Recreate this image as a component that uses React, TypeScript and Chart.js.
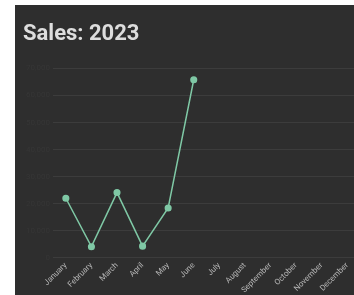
import React, { useEffect, useRef } from "react";
import { Chart, registerables } from "chart.js";

Chart.register(...registerables);

const months = [
  "January", "February", "March", "April", "May", "June",
  "July", "August", "September", "October", "November", "December",
];
const sales: (number | null)[] = [22000, 4100, 24100, 4300, 18400, 65800, null, null, null, null, null, null];
const yMin = 0;
const yMax = 70000;
const yStep = 10000;
const titleText = "Sales: 2023";

export default function App() {
  const ref = useRef<HTMLCanvasElement | null>(null);
  useEffect(() => {
    if (!ref.current) return;
    const chart = new Chart(ref.current, {
      type: "line",
      data: {
        labels: months,
        datasets: [
          {
            label: "Sales",
            data: sales,
            borderColor: "#7fc8a5",
            backgroundColor: "#7fc8a5",
            pointBackgroundColor: "#7fc8a5",
            pointBorderColor: "#7fc8a5",
            borderWidth: 1.5,
            pointRadius: 2.8,
            tension: 0,
            spanGaps: false,
          },
        ],
      },
      options: {
        responsive: false,
        animation: false,
        maintainAspectRatio: false,
        layout: { padding: 8 },
        plugins: {
          legend: { display: false },
          tooltip: { enabled: false },
          title: {
            display: true,
            text: titleText,
            align: "start",
            color: "#dddddd",
            font: { family: "Roboto", size: 22, weight: "bold" },
            padding: { top: 8, bottom: 21 },
          },
        },
        scales: {
          x: {
            offset: true,
            grid: { display: false, drawTicks: false },
            border: { display: true, color: "#3c3c3c" },
            ticks: {
              color: "#b8b8b8",
              font: { family: "Roboto", size: 8 },
              minRotation: 45,
              maxRotation: 45,
              autoSkip: false,
              padding: 3,
            },
          },
          y: {
            min: yMin,
            max: yMax,
            grid: { color: "#3c3c3c", drawTicks: false },
            border: { display: false },
            ticks: {
              stepSize: yStep,
              color: "#363636",
              font: { family: "Roboto", size: 8 },
              padding: 3,
            },
          },
        },
      },
    });
    return () => chart.destroy();
  }, []);
  return (
    <div style={{ position: "fixed", left: 0, top: 0, width: "100vw", height: "100vh", overflow: "hidden", background: "#ffffff" }}>
      <div style={{ position: "absolute", left: 15, top: 5, width: 353, height: 301, background: "#2e2e2e" }}>
        <canvas ref={ref} width={353} height={301} style={{ display: "block" }} />
      </div>
    </div>
  );
}
